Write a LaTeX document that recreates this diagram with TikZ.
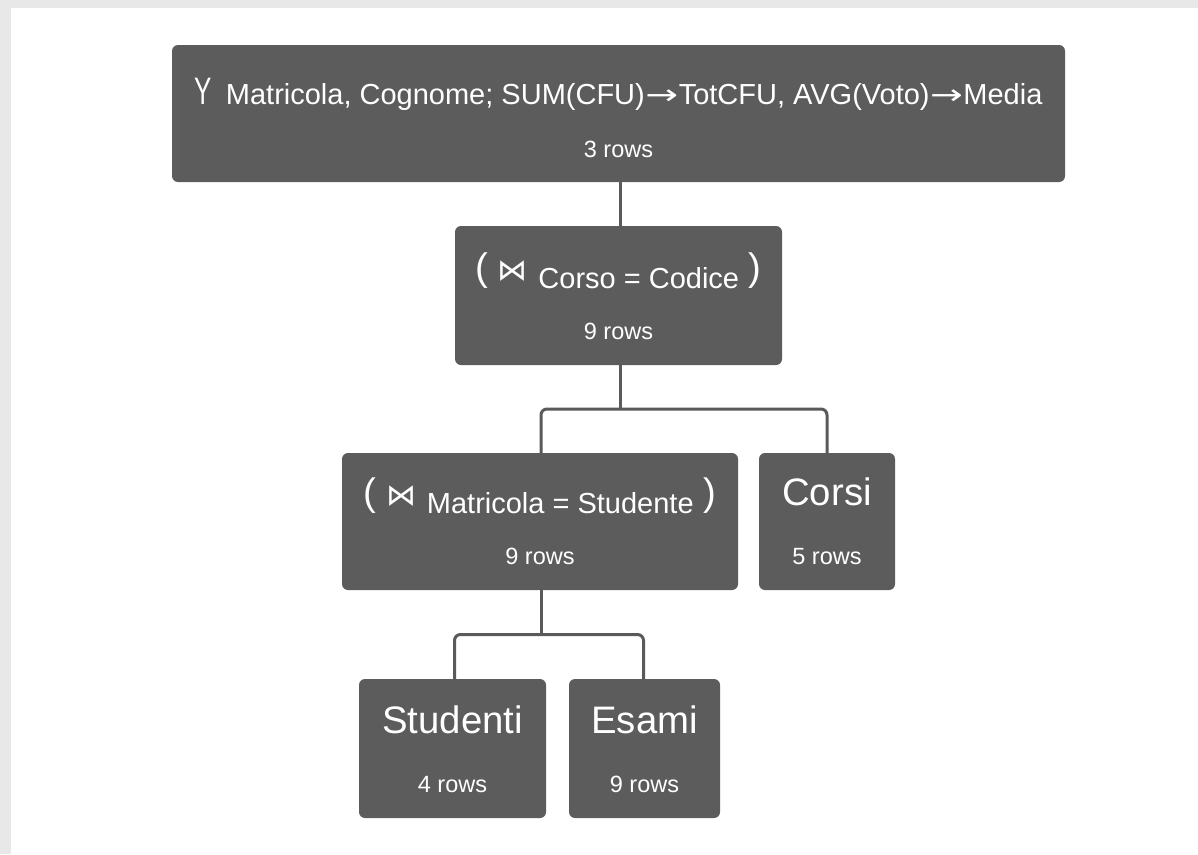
\documentclass[tikz,border=0pt]{standalone}
\usepackage{fontspec}
\usepackage{graphicx}
\setmainfont{Liberation Sans}
\newfontfamily\dejavu{DejaVu Sans}
\usetikzlibrary{calc}
\definecolor{boxgray}{HTML}{5C5C5C}
\definecolor{linegray}{HTML}{5A5A5A}
\definecolor{rimgray}{HTML}{E8E8E8}
\newcommand{\bigf}{\fontsize{38.3pt}{46pt}\selectfont}
\newcommand{\labf}{\fontsize{29pt}{35pt}\selectfont}
\newcommand{\rowf}{\fontsize{23.5pt}{28pt}\selectfont}
\newcommand{\lowsub}[1]{\raisebox{-8pt}{\labf #1}}
\newcommand{\longarr}{\hspace{0.5pt}{\dejavu\fontsize{28pt}{34pt}\selectfont\scalebox{1.4}[1]{→}}\hspace{0.5pt}}
\newcommand{\gammaop}{\scalebox{0.68}[1]{Υ}}
\newcommand{\joinsym}{{\dejavu\fontsize{30pt}{36pt}\selectfont ⋈}}
\tikzset{
  box/.style={fill=boxgray, rounded corners=6pt, inner sep=0pt, outer sep=0pt, draw=none},
  conn/.style={draw=linegray, line width=3pt, rounded corners=6pt},
  txt/.style={text=white, anchor=base, inner sep=0pt, outer sep=0pt},
}
\begin{document}
\begin{tikzpicture}[x=1pt, y=-1pt]
\fill[rimgray] (0,0) rectangle (1198,854);
\fill[white] (11,8) rectangle (1198,854);
\useasboundingbox (0,0) rectangle (1198,854);

% boxes
\node[box, minimum width=893pt, minimum height=137pt] (top) at (618.5,113.5) {};
\node[box, minimum width=327pt, minimum height=139pt] (j1) at (618.5,295.5) {};
\node[box, minimum width=396pt, minimum height=137pt] (j2) at (540,521.5) {};
\node[box, minimum width=136pt, minimum height=137pt] (corsi) at (827,521.5) {};
\node[box, minimum width=187pt, minimum height=139pt] (stud) at (452.5,748.5) {};
\node[box, minimum width=151pt, minimum height=139pt] (esami) at (644.5,748.5) {};

% texts
\node[txt] (topt) at (618.5,104) {\bigf\gammaop\hspace{14pt}\labf Matricola, Cognome; SUM(CFU)\longarr TotCFU, AVG(Voto)\longarr Media};
\node[txt] (topr) at (618.5,157) {\rowf 3 rows};
\node[txt] (j1t) at (618.5,280) {\bigf (\hspace{-1pt} \joinsym\ \lowsub{Corso = Codice}\hspace{-1pt} )};
\node[txt] (j1r) at (618.5,339) {\rowf 9 rows};
\node[txt] (j2t) at (540,505) {\bigf (\hspace{-1pt} \joinsym\ \lowsub{Matricola = Studente}\hspace{-1pt} )};
\node[txt] (j2r) at (540,564) {\rowf 9 rows};
\node[txt] (corsit) at (827,505) {\bigf Corsi};
\node[txt] (corsir) at (827,564) {\rowf 5 rows};
\node[txt] (studt) at (452.5,733) {\bigf Studenti};
\node[txt] (studr) at (452.5,792) {\rowf 4 rows};
\node[txt] (esamit) at (644.5,733) {\bigf Esami};
\node[txt] (esamir) at (644.5,792) {\rowf 9 rows};

% connectors
\draw[conn] ([xshift=2pt]top.south) -- ([xshift=2pt]j1.north);
\coordinate (b1) at ($([xshift=2pt]j1.south)!0.5!([xshift=2pt]j1.south |- j2.north)$);
\draw[conn] ([xshift=2pt]j1.south) -- (b1);
\draw[conn] ([xshift=1pt]j2.north) |- (b1) -| (corsi.north);
\coordinate (b2) at ($([xshift=1pt]j2.south)!0.5!([xshift=1pt]j2.south |- stud.north)$);
\draw[conn] ([xshift=1pt]j2.south) -- (b2);
\draw[conn] ([xshift=2pt]stud.north) |- (b2) -| ([xshift=-1pt]esami.north);
\end{tikzpicture}
\end{document}
